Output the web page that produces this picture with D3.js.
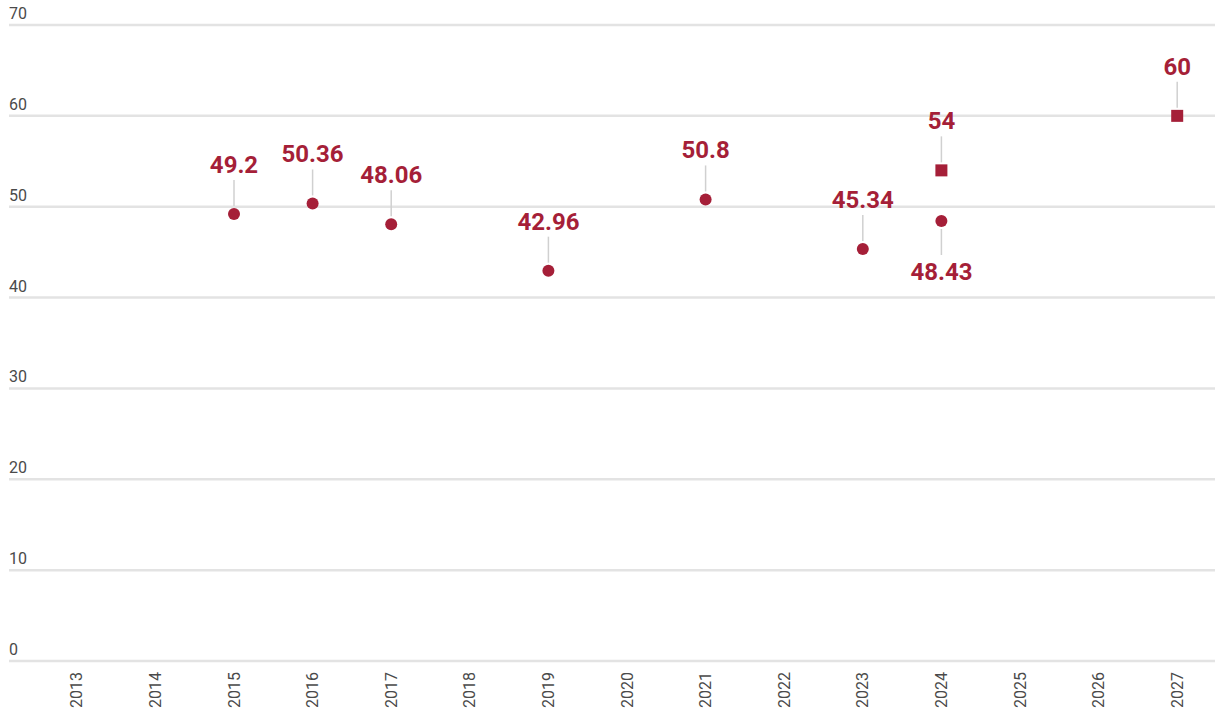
<!DOCTYPE html>
<html><head><meta charset="utf-8">
<script src="https://cdn.jsdelivr.net/npm/d3@7/dist/d3.min.js"></script>
<style>
html,body{margin:0;padding:0;background:#fff;}
text{font-family:Roboto,"Noto Sans",sans-serif;}
</style></head>
<body><svg id="c" width="1215" height="711"></svg>
<script>
const years = ["2013","2014","2015","2016","2017","2018","2019","2020","2021","2022","2023","2024","2025","2026","2027"];
const actualYears = ["2015","2016","2017","2019","2021","2023","2024"];
const actualValues = [49.2, 50.36, 48.06, 42.96, 50.8, 45.34, 48.43];
const actualLabelPos = ["above","above","above","above","above","above","below"];
const targetYears = ["2024","2027"];
const targetValues = [54, 60];
const yTicks = [0,10,20,30,40,50,60,70];

const color = "#a51f38";
const svg = d3.select("#c");
const x = d3.scaleBand().domain(years).range([37.5, 1216.5]);
const y = d3.scaleLinear().domain([0,70]).range([661, 25]);

// gridlines
svg.append("g").selectAll("line").data(yTicks).join("line")
  .attr("x1", 9).attr("x2", 1215)
  .attr("y1", d => y(d)).attr("y2", d => y(d))
  .attr("stroke", "#e3e3e3").attr("stroke-width", 2.5);
svg.append("g").selectAll("text").data(yTicks).join("text")
  .attr("x", 9).attr("y", d => y(d) - 6)
  .attr("font-size", 16).attr("fill", "#4a4a4a")
  .text(d => d);

// x axis labels
const xa = svg.append("g").attr("transform", "translate(0,672)")
  .call(d3.axisBottom(x).tickSize(0).tickPadding(0));
xa.select(".domain").remove();
xa.selectAll("text")
  .attr("transform", "rotate(-90)")
  .attr("x", 0).attr("y", 0).attr("dy", "0.35em")
  .attr("text-anchor", "end")
  .attr("font-size", 16).attr("fill", "#4a4a4a")
  .attr("font-family", "Roboto, 'Noto Sans', sans-serif");

const cx = d => x(d) + x.bandwidth()/2;

function drawLabels(ys, vals, pos, r) {
  const g = svg.append("g");
  vals.forEach((v, i) => {
    const px = cx(ys[i]), py = y(v);
    const p = pos[i];
    if (p === "above") {
      g.append("line").attr("x1", px).attr("x2", px)
        .attr("y1", py - r - 2).attr("y2", py - 34)
        .attr("stroke", "#d0d0d0").attr("stroke-width", 1.5);
      g.append("text").attr("x", px).attr("y", py - 41)
        .attr("text-anchor", "middle").attr("font-size", 24)
        .attr("font-weight", 700).attr("fill", color).text(v);
    } else {
      g.append("line").attr("x1", px).attr("x2", px)
        .attr("y1", py + r + 2).attr("y2", py + 34)
        .attr("stroke", "#d0d0d0").attr("stroke-width", 1.5);
      g.append("text").attr("x", px).attr("y", py + 59)
        .attr("text-anchor", "middle").attr("font-size", 24)
        .attr("font-weight", 700).attr("fill", color).text(v);
    }
  });
}
drawLabels(actualYears, actualValues, actualLabelPos, 6);
drawLabels(targetYears, targetValues, targetValues.map(() => "above"), 6);

svg.append("g").selectAll("circle").data(actualValues).join("circle")
  .attr("cx", (d,i) => cx(actualYears[i])).attr("cy", d => y(d))
  .attr("r", 6).attr("fill", color);
svg.append("g").selectAll("rect").data(targetValues).join("rect")
  .attr("x", (d,i) => cx(targetYears[i]) - 6).attr("y", d => y(d) - 6)
  .attr("width", 12).attr("height", 12).attr("fill", color);
</script></body></html>
